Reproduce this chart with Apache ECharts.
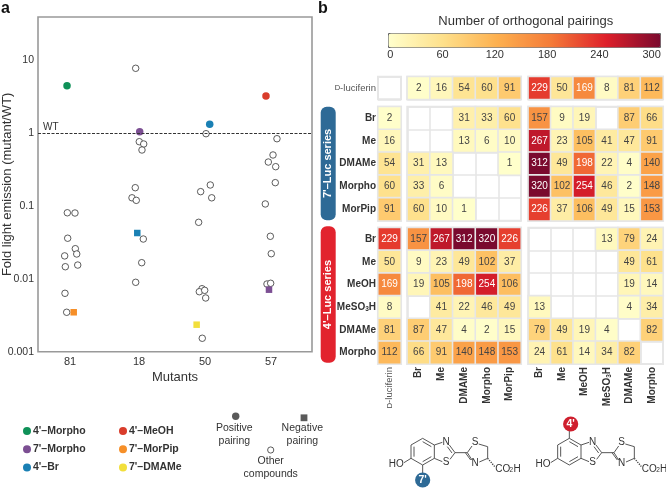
<!DOCTYPE html>
<html>
<head>
<meta charset="utf-8">
<script src="https://cdn.jsdelivr.net/npm/echarts@6/dist/echarts.min.js"></script>
<style>html,body{margin:0;padding:0;background:#fff}#c{width:666px;height:489px}</style>
</head>
<body>
<div id="c"></div>
<script>
// Panel a: [position along the mutant axis, fold emission]
const mutants = ['81', '18', '50', '57'];
const mutantPositions = [0, 1.03, 2.015, 3.0];
const yTicks = [0.001, 0.01, 0.1, 1, 10];
const otherCompounds = [
  [-0.04,0.081],[0.074,0.0804],[-0.035,0.0362],[0.079,0.026],[0.10,0.022],[-0.08,0.0207],[0.115,0.0155],[-0.07,0.0147],[-0.075,0.00634],[-0.05,0.00348],
  [0.98,7.82],[1.034,0.767],[1.10,0.713],[1.074,0.59],[0.974,0.179],[0.925,0.13],[0.989,0.12],[1.094,0.0353],[1.07,0.0167],[0.98,0.00898],
  [2.03,0.988],[2.094,0.195],[1.95,0.158],[2.115,0.13],[1.92,0.0599],[1.97,0.00733],[1.93,0.00667],[2.01,0.00697],[2.025,0.00547],[1.974,0.00153],
  [3.089,0.843],[3.03,0.504],[2.96,0.403],[3.07,0.348],[3.064,0.21],[2.915,0.107],[2.99,0.0385],[3.004,0.0222],[2.94,0.00851],[2.995,0.00871]
];
const morpho4Positive = [[-0.045,4.51]];
const meoh4Positive = [[2.925,3.25]];
const morpho7Positive = [[1.04,1.05]];
const morpho7Negative = [[2.97,0.00711]];
const br4Positive = [[2.085,1.33]];
const br4Negative = [[1.004,0.0427]];
const morpip7Negative = [[0.055,0.00348]];
const dmame7Negative = [[1.89,0.00235]];

// Panel b
const colorTicks = [0, 60, 120, 180, 240, 300];
const lucCol = ['D-luciferin'];
const cols7 = ['Br', 'Me', 'DMAMe', 'Morpho', 'MorPip'];
const cols4 = ['Br', 'Me', 'MeOH', 'MeSO3H', 'DMAMe', 'Morpho'];
const lucRowName = ['D-luciferin'];
const rows7 = ['Br', 'Me', 'DMAMe', 'Morpho', 'MorPip'];
const rows4 = ['Br', 'Me', 'MeOH', 'MeSO3H', 'DMAMe', 'Morpho'];
const lucRow = [null, 2,16,54,60,91, 229,50,169,8,81,112];
const row7Br = [2, null,null,31,33,60, 157,9,19,null,87,66];
const row7Me = [16, null,null,13,6,10, 267,23,105,41,47,91];
const row7DMAMe = [54, 31,13,null,null,1, 312,49,198,22,4,140];
const row7Morpho = [60, 33,6,null,null,null, 320,102,254,46,2,148];
const row7MorPip = [91, 60,10,1,null,null, 226,37,106,49,15,153];
const row4Br = [229, 157,267,312,320,226, null,null,null,13,79,24];
const row4Me = [50, 9,23,49,102,37, null,null,null,null,49,61];
const row4MeOH = [169, 19,105,198,254,106, null,null,null,null,19,14];
const row4MeSO3H = [8, null,41,22,46,49, 13,null,null,null,4,34];
const row4DMAMe = [81, 87,47,4,2,15, 79,49,19,4,null,82];
const row4Morpho = [112, 66,91,140,148,153, 24,61,14,34,82,null];

const FONT = '"Liberation Sans", Arial, sans-serif';
const heatColors = ['#ffffcc','#fee08b','#fdb04f','#f47a38','#de1f2a','#7a0a2e'];

const grids = [], xAxes = [], yAxes = [], series = [], graphics = [];
const cap = s => s.replace('MeSO3H','MeSO{sub|3}H').replace('D-luciferin','{sc|D}-luciferin');

// ---- scatter panel ----
grids.push({left:38, top:17, width:274, height:334.7, outerBoundsMode:'none', show:true, borderColor:'#999', borderWidth:1.6, backgroundColor:'#fff'});
xAxes.push({gridIndex:0, type:'value', min:-0.478, max:3.612,
  axisLine:{show:false}, axisTick:{show:false}, splitLine:{show:false},
  axisLabel:{customValues:mutantPositions, margin:5, fontSize:11, fontFamily:FONT, color:'#333',
    formatter:v=>mutants[mutantPositions.indexOf(v)] ?? ''},
  name:'Mutants', nameLocation:'middle', nameGap:19, nameMoveOverlap:false, nameTextStyle:{fontSize:13, fontFamily:FONT, color:'#333'}});
yAxes.push({gridIndex:0, type:'log', logBase:10, min:0.001, max:39.6,
  axisLine:{show:false}, axisTick:{show:false}, splitLine:{show:false}, minorTick:{show:false}, minorSplitLine:{show:false},
  axisLabel:{customValues:yTicks, margin:4, fontSize:10.5, fontFamily:FONT, color:'#333', formatter:v=>String(+(+v).toPrecision(1))},
  name:'Fold light emission (mutant/WT)', nameLocation:'middle', nameGap:24, nameMoveOverlap:false, nameTextStyle:{fontSize:13, fontFamily:FONT, color:'#333'}});

series.push({name:'Other compounds', type:'scatter', xAxisIndex:0, yAxisIndex:0, data:otherCompounds, symbol:'circle', symbolSize:6.5,
  silent:true, itemStyle:{color:'#fff', borderColor:'#333', borderWidth:0.8, opacity:1},
  markLine:{silent:true, symbol:'none', data:[{yAxis:1}], lineStyle:{type:[3,1.5], color:'#333', width:1},
    label:{show:true, formatter:'WT', position:'insideStartTop', color:'#333', fontSize:10, fontFamily:FONT, distance:[5,1]}}});
const compound = (name,color,pos,neg) => series.push({name, type:'scatter', xAxisIndex:0, yAxisIndex:0, silent:true,
  itemStyle:{color, opacity:1},
  data:[...pos.map(v=>({value:v, symbol:'circle', symbolSize:7.5})), ...neg.map(v=>({value:v, symbol:'rect', symbolSize:6.5}))]});
compound("4'–Morpho", '#0f9158', morpho4Positive, []);
compound("7'–Morpho", '#7c4f93', morpho7Positive, morpho7Negative);
compound("4'–Br", '#1a80b4', br4Positive, br4Negative);
compound("4'–MeOH", '#d93c2b', meoh4Positive, []);
compound("7'–MorPip", '#f68f28', [], morpip7Negative);
compound("7'–DMAMe", '#f2df3c', [], dmame7Negative);

// ---- colour bar axis ----
grids.push({left:390.3, top:33, width:270, height:14, outerBoundsMode:'none'});
xAxes.push({gridIndex:1, type:'value', min:0, max:310, position:'bottom',
  axisLine:{show:false}, axisTick:{show:false}, splitLine:{show:false},
  axisLabel:{customValues:colorTicks, margin:2, fontSize:11, fontFamily:FONT, color:'#333', hideOverlap:false}});
yAxes.push({gridIndex:1, type:'value', min:0, max:1, show:false});

// ---- heat-map blocks ----
const rowsTable = [[lucRow],[row7Br,row7Me,row7DMAMe,row7Morpho,row7MorPip],[row4Br,row4Me,row4MeOH,row4MeSO3H,row4DMAMe,row4Morpho]];
const rowNames = [lucRowName, rows7, rows4];
const colNames = [lucCol, cols7, cols4];
const colSlices = [[0,1],[1,6],[6,12]];
const colBoxes = [[378,23],[407.3,113.7],[528.3,134.7]];
const rowBoxes = [[76.7,22.6],[106.7,114],[227.7,136.3]];
const richT = {sub:{fontSize:6.5, fontWeight:'bold', verticalAlign:'bottom', padding:[4,0,0,0], color:'#333', fontFamily:FONT},
               sc:{fontSize:7.5, color:'#444', fontFamily:FONT}};
let gi = 2;
rowBoxes.forEach((rb,r)=>{
  colBoxes.forEach((cb,c)=>{
    grids.push({left:cb[0], top:rb[0], width:cb[1], height:rb[1], outerBoundsMode:'none', show:true, borderColor:'#e6e6e6', borderWidth:2, backgroundColor:'#fff'});
    xAxes.push({gridIndex:gi, type:'category', data:colNames[c], position:'bottom',
      axisLine:{show:false}, axisTick:{show:false}, splitArea:{show:false},
      splitLine:{show:true, lineStyle:{color:'#e6e6e6', width:1.6}},
      axisLabel:{show:r===2, interval:0, rotate:90, margin:3, fontSize:c===0?9.5:10, fontWeight:c===0?'normal':'bold', fontFamily:FONT, color:c===0?'#555':'#333',
        rich:richT, formatter:cap}});
    yAxes.push({gridIndex:gi, type:'category', data:rowNames[r], inverse:true,
      axisLine:{show:false}, axisTick:{show:false}, splitArea:{show:false},
      splitLine:{show:true, lineStyle:{color:'#e6e6e6', width:1.6}},
      axisLabel:{show:c===0, interval:0, margin:2, fontSize:r===0?9.5:10, fontWeight:r===0?'normal':'bold', fontFamily:FONT, color:r===0?'#555':'#333',
        rich:richT, formatter:cap}});
    const data = [];
    rowsTable[r].forEach((vals,ri)=>{
      vals.slice(colSlices[c][0], colSlices[c][1]).forEach((v,ci)=>{
        if (v !== null) data.push({value:[ci,ri,v], label:{color:v>=160?'#fff':'#444'}});
      });
    });
    series.push({type:'heatmap', xAxisIndex:gi, yAxisIndex:gi, data, silent:true,
      label:{show:true, fontSize:10, fontFamily:FONT, formatter:p=>p.value[2]},
      itemStyle:{borderColor:'#e6e6e6', borderWidth:1.6}});
    gi++;
  });
});

// ---- decorations ----
const txt = (text,x,y,o={}) => graphics.push({type:'text', x, y, silent:true,
  style:Object.assign({text, fill:'#333', font:`${o.size||10}px ${FONT}`, textAlign:o.align||'left', textVerticalAlign:'middle'},o.extra||{}), rotation:o.rot||0});
graphics.push({type:'text', x:1, y:9, style:{text:'a', fill:'#111', font:`bold 16px ${FONT}`, textVerticalAlign:'middle'}});
graphics.push({type:'text', x:318, y:9, style:{text:'b', fill:'#111', font:`bold 16px ${FONT}`, textVerticalAlign:'middle'}});
txt('Number of orthogonal pairings', 525.7, 21, {size:13, align:'center'});

const pill = (x,y,w,h,color,label) => {
  graphics.push({type:'rect', shape:{x,y,width:w,height:h,r:6}, style:{fill:color}, silent:true});
  graphics.push({type:'text', x:x+w/2, y:y+h/2, rotation:Math.PI/2, silent:true,
    style:{text:label, fill:'#fff', font:`bold 11px ${FONT}`, textAlign:'center', textVerticalAlign:'middle'}});
};
pill(320.7,106.7,15,113.5,'#2e6a96',"7'–Luc series");
pill(320.7,226.3,15,136.5,'#e2232e',"4'–Luc series");

// pairing-shape key
graphics.push({type:'circle', shape:{cx:235.7,cy:416.3,r:3.7}, style:{fill:'#5a5a5a'}, silent:true});
graphics.push({type:'rect', shape:{x:300.6,y:414.4,width:6.8,height:6.8}, style:{fill:'#5a5a5a'}, silent:true});
graphics.push({type:'circle', shape:{cx:270.7,cy:450,r:3.1}, style:{fill:'#fff',stroke:'#333',lineWidth:0.8}, silent:true});
txt('Positive',234.3,428,{size:10.5,align:'center'}); txt('pairing',234.3,441,{size:10.5,align:'center'});
txt('Negative',302.3,428,{size:10.5,align:'center'}); txt('pairing',302.3,441,{size:10.5,align:'center'});
txt('Other',270.7,461,{size:10.5,align:'center'}); txt('compounds',270.7,474,{size:10.5,align:'center'});

// luciferin structures, drawn from crop-scale points
const mol = (dz, badge) => {
  const P = (x,y)=>[340+(x+dz)/3, 350+y/3];
  const line = (pts,extra={}) => graphics.push({type:'polyline', silent:true, shape:{points:pts.map(p=>P(p[0],p[1]))},
    style:Object.assign({stroke:'#444', lineWidth:0.9, fill:null},extra)});
  const lab = (t,x,y,s=10) => graphics.push({type:'text', silent:true, x:P(x,y)[0], y:P(x,y)[1],
    style:{text:t, fill:'#333', font:`${s}px ${FONT}`, textAlign:'center', textVerticalAlign:'middle'}});
  line([[248,265],[283,285],[283,325],[248,345],[213,325],[213,285],[248,265]]);
  line([[248,275],[274,290]]); line([[274,320],[248,335]]); line([[222,290],[222,320]]);
  line([[283,285],[307,277]]); line([[328,285],[345,308],[330,328]]); line([[322,290],[336,309]]);
  line([[307,335],[283,325]]);
  line([[345,308],[382,308],[396,288]]); line([[376,308],[392,330]]); line([[382,308],[396,330]]);
  line([[416,282],[443,290],[443,325],[418,336]]);
  line([[443,325],[466,352]],{lineDash:[1.2,1.2],lineWidth:1.4});
  line([[213,325],[192,338]]);
  lab('N',318,276); lab('S',318,338); lab('S',405,277); lab('N',405,340);
  lab('HO',169,343); lab('CO',488,357); lab('2',514,362,6.5); lab('H',531,357);
  if (badge==="7'") line([[248,345],[248,372]]);
  else line([[248,265],[248,240]]);
  const c = badge==="7'" ? P(248,390) : P(252,222);
  graphics.push({type:'circle', silent:true, shape:{cx:c[0],cy:c[1],r:7.6}, style:{fill:badge==="7'"?'#2e6a96':'#cf1f2e'}});
  graphics.push({type:'text', silent:true, x:c[0], y:c[1], style:{text:badge, fill:'#fff', font:`bold 10.5px ${FONT}`, textAlign:'center', textVerticalAlign:'middle'}});
};
mol(0,"7'");
mol(440,"4'");

const legendBase = {orient:'vertical', icon:'circle', itemWidth:8, itemHeight:8, itemGap:7.2, padding:0, selectedMode:false,
  textStyle:{fontSize:10.5, fontWeight:'bold', fontFamily:FONT, color:'#333', padding:[0,0,0,-3]}};

const chart = echarts.init(document.getElementById('c'), null, {renderer:'canvas'});
chart.setOption({
  animation:false, backgroundColor:'#fff', textStyle:{fontFamily:FONT},
  legend:[
    Object.assign({left:23, top:425.5, data:["4'–Morpho","7'–Morpho","4'–Br"]},legendBase),
    Object.assign({left:119, top:425.5, data:["4'–MeOH","7'–MorPip","7'–DMAMe"]},legendBase)
  ],
  visualMap:{type:'continuous', min:0, max:310, orient:'horizontal', left:388, top:33, itemWidth:14, itemHeight:272,
    padding:0, text:['',''], showLabel:false, calculable:false, realtime:false, hoverLink:false, borderColor:'#666', borderWidth:1,
    seriesIndex:series.map((s,i)=>s.type==='heatmap'?i:-1).filter(i=>i>=0),
    inRange:{color:heatColors}},
  grid:grids, xAxis:xAxes, yAxis:yAxes, series, graphic:graphics
});
</script>
</body>
</html>
